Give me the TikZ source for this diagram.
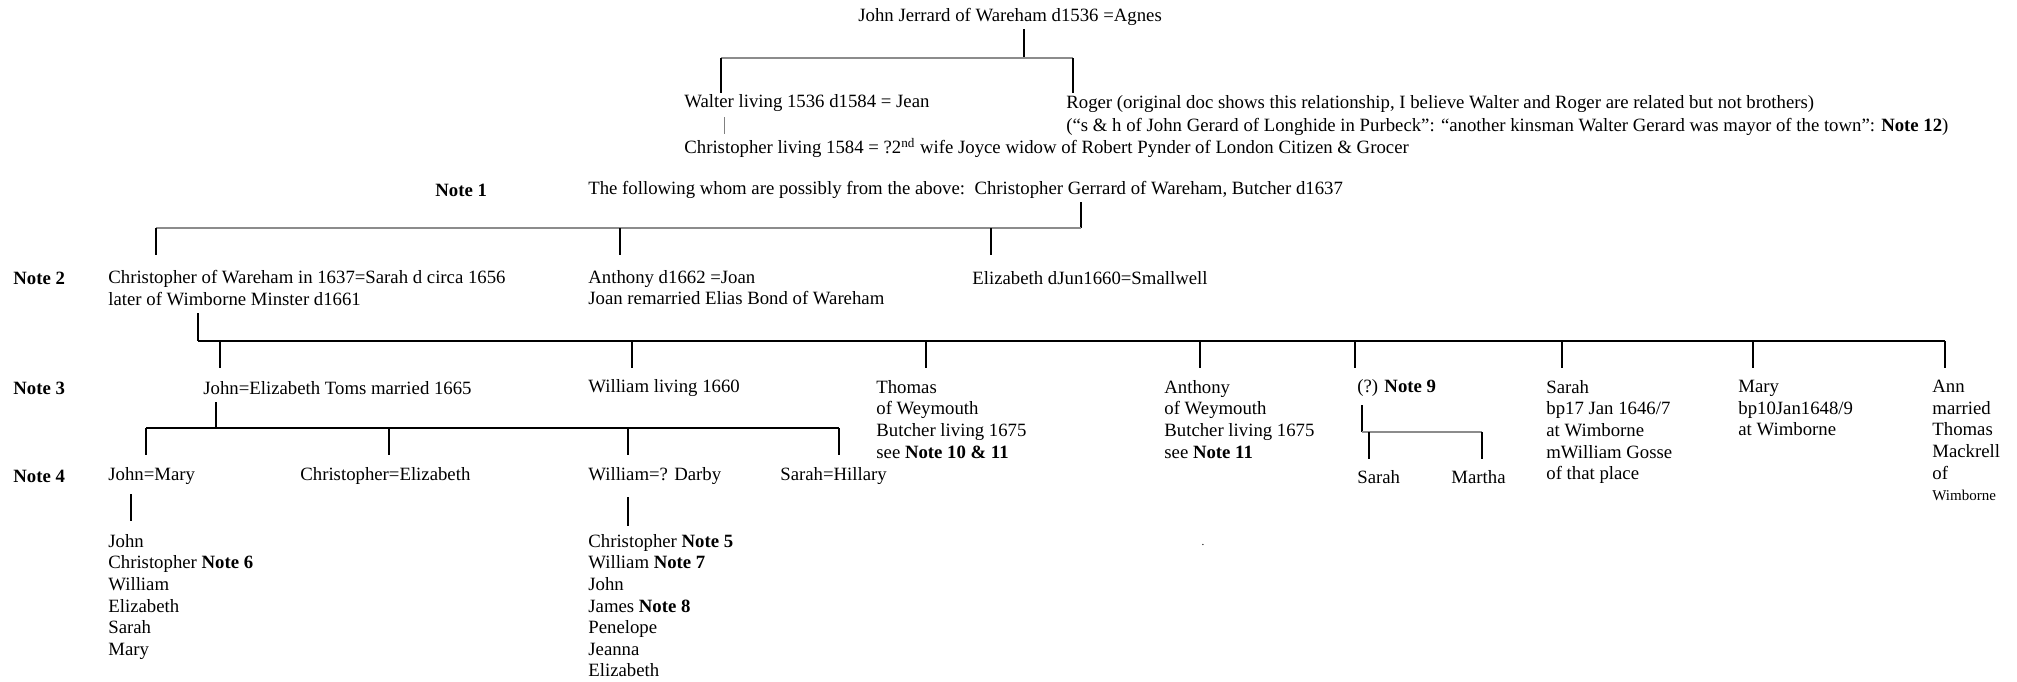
\documentclass[tikz,border=0pt]{standalone}
\usepackage{fontspec}
\setmainfont{Liberation Serif}
\usetikzlibrary{calc}

\tikzset{
  person/.style={anchor=west, inner sep=0pt, font=\fontsize{10}{11.5}\selectfont},
  family/.style={anchor=north west, align=left, inner sep=0pt, font=\fontsize{10}{11.5}\selectfont},
  note/.style={person, font=\fontsize{10}{11.5}\selectfont\bfseries},
  line/.style={line width=0.65pt},
  bar/.style={line width=1pt},
  greybar/.style={line width=0.9pt, draw=black!45},
}

\begin{document}
\begin{tikzpicture}[x=0.533pt,y=-0.533pt]
\useasboundingbox (0,0) rectangle (2017,681);

% first generations
\node[person] (john1536) at (858,17) {John Jerrard of Wareham d1536 =Agnes};
\node[person] (walter) at (684,103) {Walter living 1536 d1584 = Jean};
\node[person] (chris1584) at (684,148) {Christopher living 1584 = ?2\textsuperscript{nd} wife Joyce widow of Robert Pynder of London Citizen \& Grocer};
\node[family] (roger) at (1066,95) {Roger (original doc shows this relationship, I believe Walter and Roger are related but not brothers)\\[1pt]
  (“s \& h of John Gerard of Longhide in Purbeck”: “another kinsman Walter Gerard was mayor of the town”: \textbf{Note 12})};

\coordinate (jj) at (1024,58);
\coordinate (jjL) at (721,58);
\coordinate (jjR) at (1073,58);
\draw[line] (1024,29) -- (jj);
\draw[greybar] (jjL) -- (jjR);
\draw[line] (jjL) -- (jjL |- 0,93);
\draw[line] (jjR) -- (jjR |- 0,93);
\draw[black!50] (724,117) -- (724,134);

% Note 1
\node[note] (note1) at (435,190) {Note 1};
\node[person] (butcher) at (588,190) {The following whom are possibly from the above:\ \ Christopher Gerrard of Wareham, Butcher d1637};

\coordinate (cg) at (1081,228);
\draw[line] (1081,202) -- (cg);
\draw[greybar] (cg) -- (156,228);
\foreach \x in {156,620,991}
  \draw[line] (\x,228) -- (\x,255);

% Note 2
\node[note] (note2) at (13,278) {Note 2};
\node[family] (chrisW) at (108,270) {Christopher of Wareham in 1637=Sarah d circa 1656\\later of Wimborne Minster d1661};
\node[family] (anthony) at (588,270) {Anthony d1662 =Joan\\Joan remarried Elias Bond of Wareham};
\node[person] (elizabeth) at (972,278) {Elizabeth dJun1660=Smallwell};

\coordinate (cw) at (198,341);
\draw[line] (198,313) -- (cw);
\draw[bar] (cw) -- (1945,341);
\foreach \x in {220,632,926,1200,1355,1562,1753,1945}
  \draw[line] (\x,341) -- (\x,368);

% Note 3
\node[note] (note3) at (13,388) {Note 3};
\node[person] (johnE) at (203,388) {John=Elizabeth Toms married 1665};
\node[person] (william1660) at (588,388) {William living 1660};
\node[family] (thomas) at (876,380) {Thomas\\of Weymouth\\Butcher living 1675\\see \textbf{Note 10 \& 11}};
\node[family] (anthonyW) at (1164,380) {Anthony\\of Weymouth\\Butcher living 1675\\see \textbf{Note 11}};
\node[person] (note9) at (1357,388) {(?) \textbf{Note 9}};
\node[family] (sarahG) at (1546,380) {Sarah\\bp17 Jan 1646/7\\at Wimborne\\mWilliam Gosse\\of that place};
\node[family] (mary) at (1738,380) {Mary\\bp10Jan1648/9\\at Wimborne};
\node[family] (ann) at (1932,380) {Ann\\married\\Thomas\\Mackrell\\of\\{\fontsize{8}{9.5}\selectfont Wimborne}};

\coordinate (je) at (216,428);
\draw[line] (216,402) -- (je);
\draw[bar] (146,428) -- (839,428);
\foreach \x in {146,389,628,839}
  \draw[line] (\x,428) -- (\x,455);

\coordinate (n9) at (1362,432);
\draw[line] (1362,405) -- (n9);
\draw[greybar] (n9) -- (1482,432);
\draw[line] (1369,432) -- (1369,459);
\draw[line] (1482,432) -- (1482,459);

% Note 4
\node[note] (note4) at (13,476) {Note 4};
\node[person] (johnM) at (108,476) {John=Mary};
\node[person] (chrisE) at (300,476) {Christopher=Elizabeth};
\node[person] (williamD) at (588,476) {William=? Darby};
\node[person] (sarahH) at (780,476) {Sarah=Hillary};
\node[person] (sarah9) at (1357,477) {Sarah};
\node[person] (martha) at (1451,477) {Martha};

\draw[line] (131,494) -- (131,521);
\draw[line] (628,497) -- (628,526);

% grandchildren
\node[family] (johnKids) at (108,534) {John\\Christopher \textbf{Note 6}\\William\\Elizabeth\\Sarah\\Mary};
\node[family] (williamKids) at (588,534) {Christopher \textbf{Note 5}\\William \textbf{Note 7}\\John\\James \textbf{Note 8}\\Penelope\\Jeanna\\Elizabeth};
\node[anchor=base, inner sep=0pt, font=\fontsize{6}{7}\selectfont] (dot) at (1203,545) {.};
\end{tikzpicture}
\end{document}
